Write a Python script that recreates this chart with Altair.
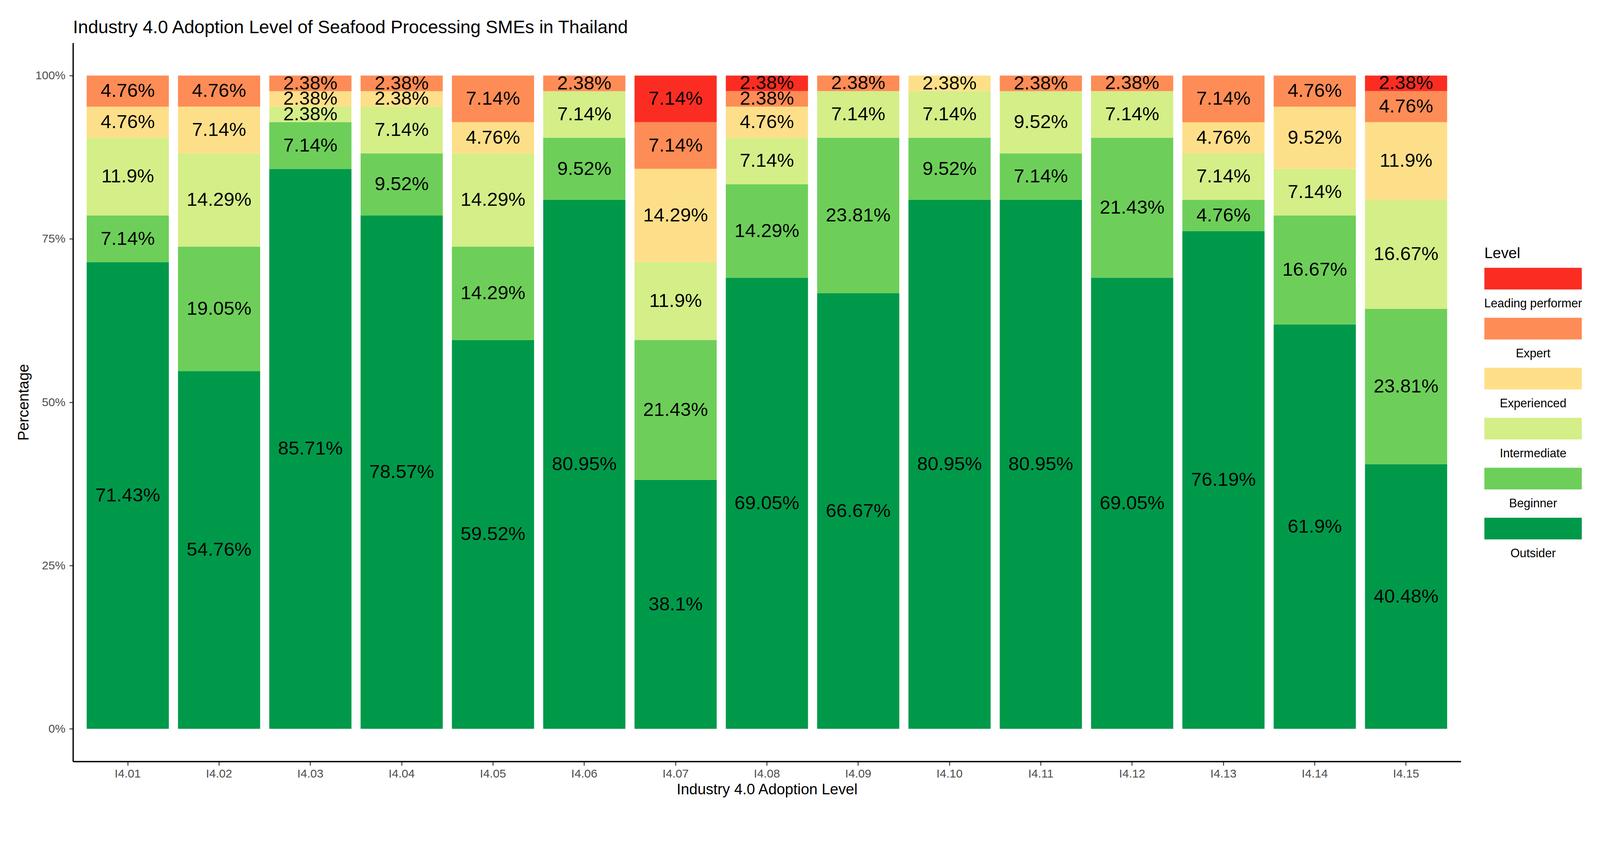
import altair as alt
import pandas as pd

# ---- data ----
items = ["I4.01", "I4.02", "I4.03", "I4.04", "I4.05", "I4.06", "I4.07", "I4.08",
         "I4.09", "I4.10", "I4.11", "I4.12", "I4.13", "I4.14", "I4.15"]
levels = ["Outsider", "Beginner", "Intermediate", "Experienced", "Expert", "Leading performer"]
outsider = [71.43, 54.76, 85.71, 78.57, 59.52, 80.95, 38.10, 69.05, 66.67, 80.95, 80.95, 69.05, 76.19, 61.90, 40.48]
beginner = [7.14, 19.05, 7.14, 9.52, 14.29, 9.52, 21.43, 14.29, 23.81, 9.52, 7.14, 21.43, 4.76, 16.67, 23.81]
intermediate = [11.90, 14.29, 2.38, 7.14, 14.29, 7.14, 11.90, 7.14, 7.14, 7.14, 9.52, 7.14, 7.14, 7.14, 16.67]
experienced = [4.76, 7.14, 2.38, 2.38, 4.76, 0, 14.29, 4.76, 0, 2.38, 0, 0, 4.76, 9.52, 11.90]
expert = [4.76, 4.76, 2.38, 2.38, 7.14, 2.38, 7.14, 2.38, 2.38, 0, 2.38, 2.38, 7.14, 4.76, 4.76]
leading = [0, 0, 0, 0, 0, 0, 7.14, 2.38, 0, 0, 0, 0, 0, 0, 2.38]
colors = ["#00994A", "#6DCF59", "#D4EE88", "#FEDF89", "#FE8C56", "#FB2D22"]

title_text = "Industry 4.0 Adoption Level of Seafood Processing SMEs in Thailand"
FONT = "Liberation Sans"

series = [outsider, beginner, intermediate, experienced, expert, leading]
rows = []
for i, it in enumerate(items):
    for k, lvl in enumerate(levels):
        v = series[k][i]
        if v > 0:
            rows.append({"item": it, "level": lvl, "order": k, "value": v, "label": f"{v:g}%"})
df = pd.DataFrame(rows)

W, H = 3775, 1955
color_scale = alt.Scale(domain=levels, range=colors)
y_scale = alt.Scale(domain=[-5, 105], nice=False, zero=False)

base = alt.Chart(df).transform_stack(
    stack="value", groupby=["item"],
    sort=[alt.SortField("order", order="ascending")], as_=["y0", "y1"]
).transform_calculate(mid="(datum.y0 + datum.y1) / 2")

x_enc = alt.X(
    "item:N", sort=items, title="Industry 4.0 Adoption Level",
    scale=alt.Scale(paddingInner=0.1, paddingOuter=0.15),
    axis=alt.Axis(labelFontSize=32, labelColor="#4D4D4D", labelFont=FONT, labelAngle=0,
                  tickSize=11, tickColor="#333333", tickWidth=2.5,
                  domainColor="black", domainWidth=3.5,
                  labelPadding=32, labelBaseline="alphabetic",
                  titleFontSize=40.8, titleFont=FONT, titleFontWeight="normal", titleColor="black",
                  titleBaseline="alphabetic", titleY=89, titleX=W / 2, grid=False),
)

bars = base.mark_bar().encode(
    x=x_enc,
    y=alt.Y("y0:Q", scale=y_scale, title="Percentage",
            axis=alt.Axis(values=[0, 25, 50, 75, 100], labelExpr="datum.value + '%'",
                          labelFontSize=32, labelColor="#4D4D4D", labelFont=FONT,
                          labelBaseline="middle", labelAlign="right", labelPadding=11,
                          tickSize=10, tickColor="#333333", tickWidth=2.5,
                          domainColor="black", domainWidth=3.5,
                          titleFontSize=40.8, titleFont=FONT, titleFontWeight="normal",
                          titleColor="black", titleX=-121, titleY=H / 2, titleAngle=270,
                          titleBaseline="alphabetic", titleAlign="center", grid=False)),
    y2="y1:Q",
    color=alt.Color("level:N", scale=color_scale, legend=None),
)

labels = base.mark_text(fontSize=52, font=FONT, color="black", baseline="middle").encode(
    x=alt.X("item:N", sort=items),
    y=alt.Y("mid:Q", scale=y_scale),
    text="label:N",
)

main = alt.layer(bars, labels)

# ---- chart title as a text mark above the plot ----
title_mark = alt.Chart(pd.DataFrame({"t": [title_text]})).mark_text(
    fontSize=49.5, font=FONT, color="black", align="left", baseline="alphabetic"
).encode(x=alt.value(0), y=alt.value(-26), text="t:N")

# ---- custom legend (labels below swatches) ----
legend_df = pd.DataFrame({"level": levels[::-1]})
leg_y = alt.Y("level:N", sort=levels[::-1],
              scale=alt.Scale(range=[612, 1351], paddingInner=0.566, paddingOuter=0), axis=None)
leg_rect = alt.Chart(legend_df).mark_rect().encode(
    x=alt.value(3839), x2=alt.value(4104), y=leg_y,
    color=alt.Color("level:N", scale=color_scale, legend=None),
)
leg_text = alt.Chart(legend_df).mark_text(
    fontSize=32.6, font=FONT, color="black", dy=78.5, baseline="alphabetic", align="center"
).encode(x=alt.value(3971.5), y=leg_y, text="level:N")
leg_title = alt.Chart(pd.DataFrame({"t": ["Level"]})).mark_text(
    fontSize=40.8, font=FONT, color="black", align="left", baseline="alphabetic"
).encode(x=alt.value(3839), y=alt.value(586), text="t:N")

legend = alt.layer(leg_rect, leg_text, leg_title)

chart = alt.layer(main, legend, title_mark).resolve_scale(y="independent").properties(
    width=W, height=H,
    autosize=alt.AutoSizeParams(type="none"),
    padding={"left": 190, "top": 42, "right": 370, "bottom": 120},
).configure_view(strokeWidth=0)

chart.save("out.html", embed_options={"renderer": "svg", "actions": False})
